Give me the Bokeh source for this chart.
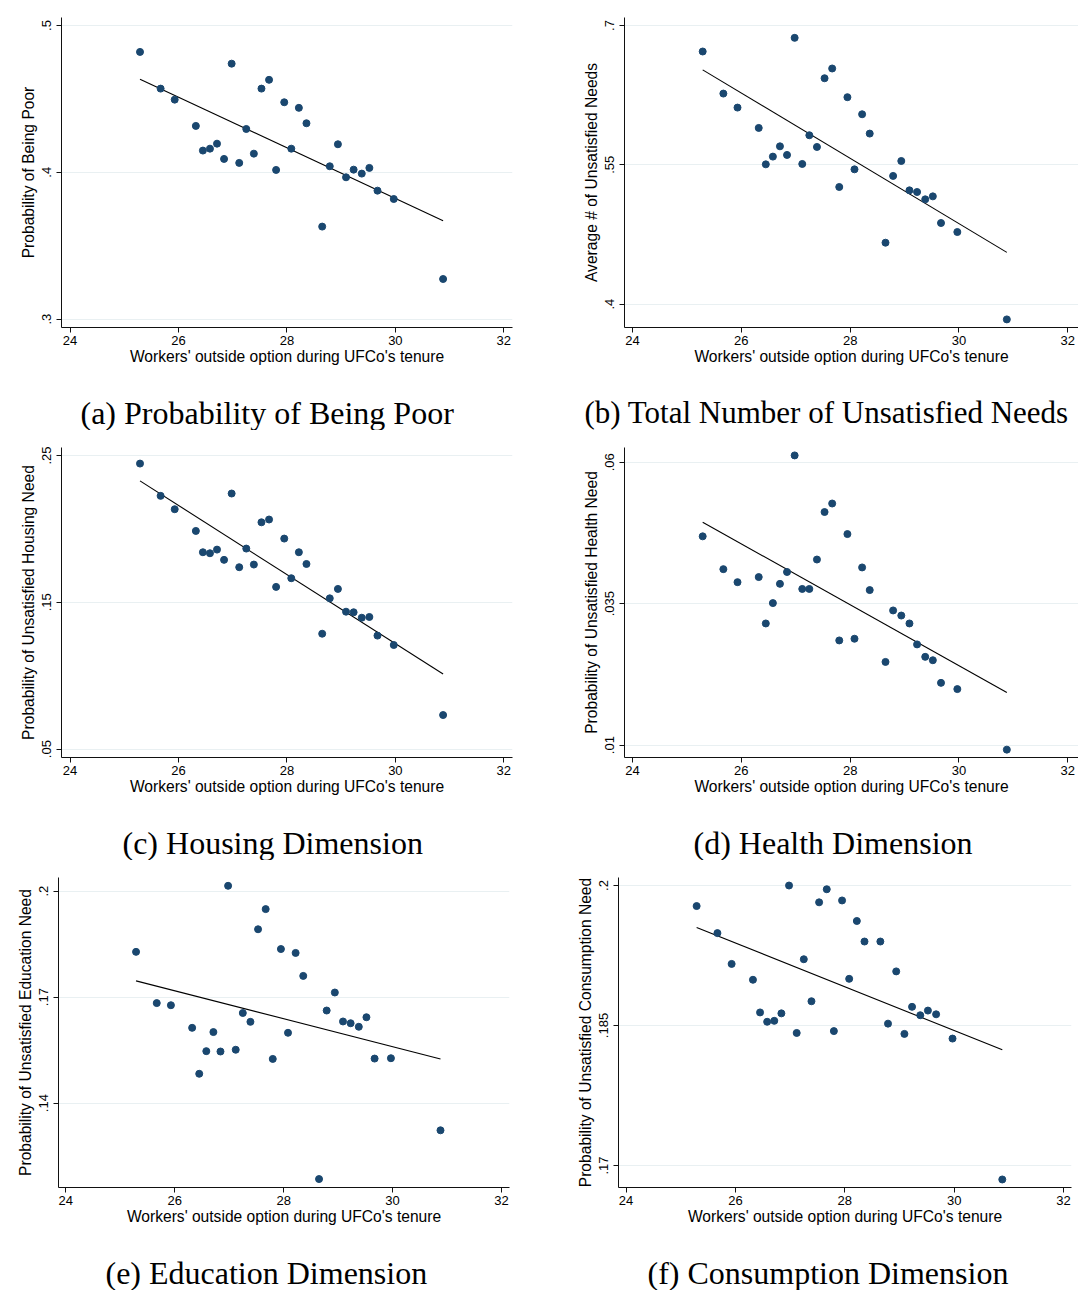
from bokeh.plotting import figure
from bokeh.layouts import column, row
from bokeh.models import Range1d, FixedTicker
from bokeh.core.properties import value
from bokeh.embed import file_html
from bokeh.resources import INLINE

# ---------------- data ----------------
outside_option = [25.29, 25.67, 25.93, 26.32, 26.45, 26.58, 26.71, 26.84, 26.98, 27.12,
                  27.25, 27.39, 27.53, 27.67, 27.80, 27.95, 28.08, 28.22, 28.36, 28.65,
                  28.79, 28.94, 29.09, 29.23, 29.38, 29.52, 29.67, 29.97, 30.88]

prob_poor = [0.482, 0.457, 0.4495, 0.4316, 0.4148, 0.4161, 0.4195, 0.4091, 0.474, 0.4064,
             0.4295, 0.4127, 0.457, 0.463, 0.4016, 0.4477, 0.4161, 0.4439, 0.4334, 0.3630,
             0.4041, 0.4191, 0.3966, 0.4018, 0.3991, 0.4030, 0.3875, 0.3818, 0.3273]
avg_needs = [0.672, 0.6267, 0.6116, 0.5897, 0.5505, 0.5588, 0.5699, 0.5606, 0.6867, 0.5509,
             0.5818, 0.5692, 0.6432, 0.6537, 0.5261, 0.6228, 0.5451, 0.6044, 0.5836, 0.4661,
             0.5380, 0.5541, 0.5225, 0.5207, 0.5128, 0.5160, 0.4873, 0.4776, 0.3835]
housing = [0.2445, 0.2225, 0.2134, 0.1986, 0.1841, 0.1834, 0.1859, 0.1789, 0.2241, 0.1739,
           0.1866, 0.1757, 0.2045, 0.2064, 0.1605, 0.1934, 0.1664, 0.1841, 0.1761, 0.1286,
           0.1527, 0.1591, 0.1436, 0.1432, 0.1395, 0.1400, 0.1273, 0.1209, 0.0732]
health = [0.0469, 0.0411, 0.0388, 0.0397, 0.0315, 0.0351, 0.0385, 0.0406, 0.0612, 0.0376,
          0.0376, 0.0428, 0.0512, 0.0527, 0.0285, 0.0473, 0.0288, 0.0414, 0.0374, 0.0247,
          0.0338, 0.0329, 0.0315, 0.0278, 0.0256, 0.0250, 0.0210, 0.0199, 0.0092]
education = [0.1828, 0.1683, 0.1677, 0.1613, 0.1483, 0.1547, 0.1601, 0.1546, 0.2015, 0.1551,
             0.1655, 0.1630, 0.1892, 0.1949, 0.1525, 0.1836, 0.1599, 0.1825, 0.1760, 0.1185,
             0.1662, 0.1713, 0.1631, 0.1626, 0.1616, 0.1643, 0.1526, 0.1527, 0.1323]
consumption = [0.1978, 0.1949, 0.1916, 0.1899, 0.1864, 0.1854, 0.1855, 0.1863, 0.2000, 0.1842,
               0.1921, 0.1876, 0.1982, 0.1996, 0.1844, 0.1984, 0.1900, 0.1962, 0.1940, 0.1940,
               0.1852, 0.1908, 0.1841, 0.1870, 0.1861, 0.1866, 0.1862, 0.1836, 0.1685]

# fitted lines (end points)
fit_x = [25.29, 30.88]
fit_poor = [0.4634, 0.3670]
fit_needs = [0.6522, 0.4557]
fit_housing = [0.2327, 0.1011]
fit_health = [0.0494, 0.0193]
fit_education = [0.1746, 0.1525]
fit_consumption = [0.1955, 0.1824]

x_ticks = [24, 26, 28, 30, 32]
ticks_poor = [0.3, 0.4, 0.5]
ticks_needs = [0.4, 0.55, 0.7]
ticks_housing = [0.05, 0.15, 0.25]
ticks_health = [0.01, 0.035, 0.06]
ticks_education = [0.14, 0.17, 0.2]
ticks_consumption = [0.17, 0.185, 0.2]

x_title = "Workers' outside option during UFCo's tenure"
y_titles = ["Probability of Being Poor", "Average # of Unsatisfied Needs",
            "Probability of Unsatisfied Housing Need", "Probability of Unsatisfied Health Need",
            "Probability of Unsatisfied Education Need", "Probability of Unsatisfied Consumption Need"]
captions = ["(a) Probability of Being Poor", "(b) Total Number of Unsatisfied Needs",
            "(c) Housing Dimension", "(d) Health Dimension",
            "(e) Education Dimension", "(f) Consumption Dimension"]

# ---------------- styling ----------------
NAVY = "#1a476f"
GRID = "#e9f0f2"
SANS = "Liberation Sans"
SERIF = "Liberation Serif"
PLOT_H = 380
CAP_H = 50


def fmt(t):
    s = f"{t:g}"
    return s[1:] if s.startswith("0.") else s


def panel(ys, fit_y, yticks, yrange, xrange, ytitle, caption, width, bl, br,
          cap_x, cap_size="32px"):
    p = figure(width=width, height=PLOT_H, output_backend="svg", toolbar_location=None,
               x_range=Range1d(*xrange), y_range=Range1d(*yrange),
               min_border_left=bl, min_border_right=br, min_border_top=17,
               min_border_bottom=PLOT_H - 17 - 310)
    p.frame_align = False
    p.outline_line_color = None
    p.background_fill_color = "white"
    p.border_fill_color = "white"

    p.xgrid.visible = False
    p.ygrid.ticker = FixedTicker(ticks=yticks)
    p.ygrid.grid_line_color = GRID
    p.ygrid.grid_line_width = 1

    p.xaxis.ticker = FixedTicker(ticks=x_ticks)
    p.yaxis.ticker = FixedTicker(ticks=yticks)
    p.yaxis.major_label_overrides = {t: fmt(t) for t in yticks}
    p.yaxis.major_label_orientation = "vertical"
    for ax in (p.xaxis, p.yaxis):
        ax.axis_line_color = "#111111"
        ax.axis_line_width = 1
        ax.major_tick_line_color = "#111111"
        ax.major_tick_out = 5
        ax.major_tick_in = 0
        ax.minor_tick_line_color = None
        ax.major_label_text_font = SANS
        ax.major_label_text_font_size = "13px"
        ax.major_label_text_color = "black"
        ax.axis_label_text_font = SANS
        ax.axis_label_text_font_size = "15.6px"
        ax.axis_label_text_font_style = "normal"
        ax.axis_label_text_color = "black"
    p.xaxis.major_label_standoff = 3
    p.xaxis.axis_label_standoff = 0
    p.yaxis.major_label_standoff = 5
    p.yaxis.axis_label_standoff = 3
    p.xaxis.axis_label = x_title
    p.yaxis.axis_label = ytitle

    p.line(fit_x, fit_y, line_color="black", line_width=1.1)
    p.scatter(outside_option, ys, size=7, fill_color=NAVY, line_color=NAVY)

    # caption strip: an axis-less figure whose ranges equal its pixel size
    c = figure(width=width, height=CAP_H, output_backend="svg", toolbar_location=None,
               x_range=Range1d(0, width), y_range=Range1d(0, CAP_H),
               x_axis_location=None, y_axis_location=None,
               min_border=0, min_border_left=0, min_border_right=0,
               min_border_top=0, min_border_bottom=0)
    c.frame_align = False
    c.grid.visible = False
    c.outline_line_color = None
    c.background_fill_color = "white"
    c.border_fill_color = "white"
    c.text(x=[cap_x], y=[18], text=[caption], text_font=value(SERIF),
           text_font_size=cap_size, text_color="black", text_align="left",
           text_baseline="alphabetic")
    return column(p, c, spacing=0)


XA = (23.842, 32.16)    # panels a, c
XB = (23.853, 32.197)   # panels b, d
XE = (23.866, 32.147)   # panel e
XF = (23.861, 32.146)   # panel f

pa = panel(prob_poor, fit_poor, ticks_poor, (0.29427, 0.50545), XA, y_titles[0], captions[0], 540, 61, 28, 80)
pb = panel(avg_needs, fit_needs, ticks_needs, (0.37478, 0.70862), XB, y_titles[1], captions[1], 538, 84, 0, 44, "31px")
pc = panel(housing, fit_housing, ticks_housing, (0.04427, 0.25545), XA, y_titles[2], captions[2], 540, 61, 28, 122)
pd_ = panel(health, fit_health, ticks_health, (0.00781, 0.0626), XB, y_titles[3], captions[3], 538, 84, 0, 153)
pe = panel(education, fit_education, ticks_education, (0.11611, 0.20385), XE, y_titles[4], captions[4], 540, 58, 31, 105)
pf = panel(consumption, fit_consumption, ticks_consumption, (0.16764, 0.20086), XF, y_titles[5], captions[5], 538, 78, 7, 107)

layout = column(row(pa, pb, spacing=0), row(pc, pd_, spacing=0), row(pe, pf, spacing=0), spacing=0)
open("out.html", "w").write(file_html(layout, INLINE))
